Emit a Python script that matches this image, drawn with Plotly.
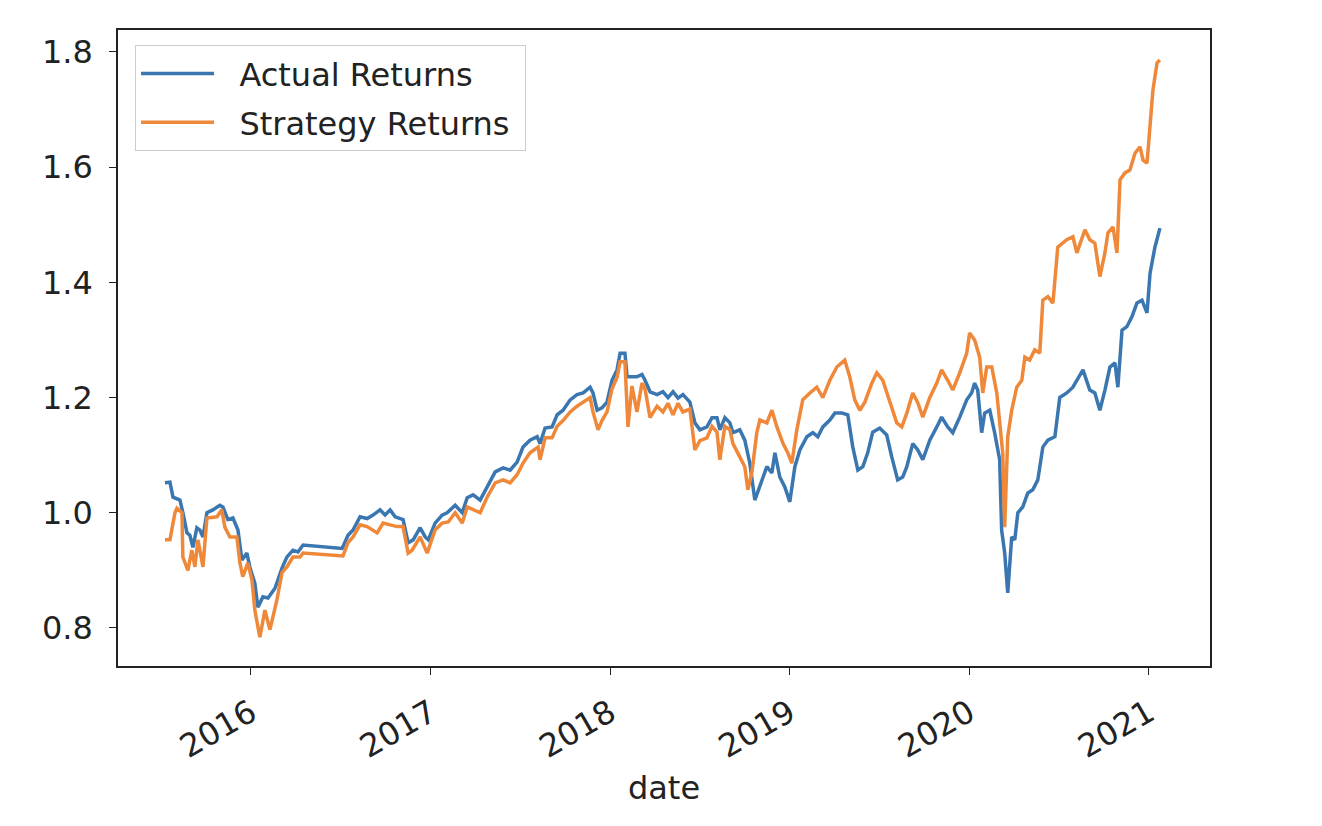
import pandas as pd
import plotly.graph_objects as go

actual_years = [
    2015.521, 2015.549, 2015.566, 2015.605, 2015.621, 2015.644, 2015.660, 2015.677, 2015.699, 2015.716,
    2015.733, 2015.755, 2015.788, 2015.827, 2015.844, 2015.872, 2015.900, 2015.928, 2015.950, 2015.978,
    2015.994, 2016.022, 2016.039, 2016.067, 2016.095, 2016.134, 2016.173, 2016.200, 2016.234, 2016.262,
    2016.290, 2016.507, 2016.540, 2016.568, 2016.607, 2016.646, 2016.679, 2016.718, 2016.746, 2016.774,
    2016.802, 2016.846, 2016.874, 2016.902, 2016.941, 2016.969, 2016.986, 2017.024, 2017.063, 2017.091,
    2017.136, 2017.175, 2017.203, 2017.236, 2017.275, 2017.314, 2017.359, 2017.403, 2017.442, 2017.481,
    2017.514, 2017.553, 2017.593, 2017.609, 2017.637, 2017.676, 2017.704, 2017.737, 2017.777, 2017.815,
    2017.849, 2017.888, 2017.904, 2017.927, 2017.954, 2017.982, 2018.010, 2018.038, 2018.055, 2018.082,
    2018.094, 2018.110, 2018.149, 2018.177, 2018.194, 2018.222, 2018.261, 2018.294, 2018.322, 2018.350,
    2018.378, 2018.405, 2018.444, 2018.472, 2018.500, 2018.539, 2018.567, 2018.595, 2018.611, 2018.639,
    2018.667, 2018.684, 2018.722, 2018.750, 2018.778, 2018.806, 2018.845, 2018.873, 2018.901, 2018.918,
    2018.945, 2018.973, 2019.001, 2019.029, 2019.057, 2019.096, 2019.129, 2019.157, 2019.185, 2019.224,
    2019.252, 2019.291, 2019.324, 2019.352, 2019.380, 2019.408, 2019.435, 2019.463, 2019.502, 2019.541,
    2019.569, 2019.602, 2019.630, 2019.653, 2019.686, 2019.714, 2019.742, 2019.781, 2019.820, 2019.847,
    2019.881, 2019.909, 2019.948, 2019.987, 2020.014, 2020.031, 2020.048, 2020.070, 2020.087, 2020.115,
    2020.142, 2020.170, 2020.181, 2020.198, 2020.215, 2020.237, 2020.254, 2020.271, 2020.298, 2020.326,
    2020.354, 2020.382, 2020.410, 2020.438, 2020.477, 2020.504, 2020.543, 2020.577, 2020.633, 2020.671,
    2020.699, 2020.727, 2020.755, 2020.783, 2020.811, 2020.827, 2020.850, 2020.877, 2020.905, 2020.933,
    2020.961, 2020.989, 2021.006, 2021.033, 2021.061,
]
actual_returns = [
    1.052, 1.053, 1.027, 1.022, 1.000, 0.965, 0.961, 0.940, 0.974, 0.970,
    0.958, 1.000, 1.005, 1.013, 1.010, 0.988, 0.991, 0.970, 0.918, 0.930,
    0.906, 0.878, 0.836, 0.854, 0.852, 0.869, 0.904, 0.923, 0.935, 0.932,
    0.944, 0.938, 0.961, 0.970, 0.993, 0.990, 0.996, 1.005, 0.996, 1.005,
    0.993, 0.988, 0.948, 0.953, 0.974, 0.958, 0.953, 0.982, 0.996, 1.000,
    1.013, 1.000, 1.026, 1.031, 1.022, 1.045, 1.071, 1.078, 1.074, 1.088,
    1.114, 1.126, 1.132, 1.120, 1.147, 1.149, 1.170, 1.178, 1.196, 1.205,
    1.208, 1.218, 1.208, 1.178, 1.182, 1.192, 1.230, 1.248, 1.277, 1.277,
    1.236, 1.236, 1.236, 1.240, 1.230, 1.210, 1.205, 1.210, 1.200, 1.210,
    1.199, 1.205, 1.192, 1.156, 1.144, 1.149, 1.165, 1.165, 1.144, 1.165,
    1.156, 1.139, 1.144, 1.126, 1.086, 1.022, 1.057, 1.080, 1.069, 1.104,
    1.062, 1.045, 1.019, 1.080, 1.109, 1.132, 1.139, 1.132, 1.149, 1.161,
    1.173, 1.173, 1.170, 1.114, 1.074, 1.080, 1.104, 1.140, 1.147, 1.135,
    1.097, 1.057, 1.062, 1.080, 1.120, 1.109, 1.092, 1.126, 1.149, 1.166,
    1.149, 1.139, 1.166, 1.196, 1.208, 1.225, 1.213, 1.139, 1.173, 1.178,
    1.139, 1.092, 0.970, 0.930, 0.861, 0.958, 0.953, 1.000, 1.010, 1.034,
    1.040, 1.057, 1.114, 1.126, 1.132, 1.200, 1.208, 1.218, 1.248, 1.213,
    1.208, 1.178, 1.213, 1.253, 1.260, 1.218, 1.317, 1.323, 1.340, 1.364,
    1.369, 1.347, 1.416, 1.461, 1.494,
]

strategy_years = [
    2015.521, 2015.549, 2015.577, 2015.588, 2015.616, 2015.621, 2015.649, 2015.671, 2015.688, 2015.705,
    2015.733, 2015.755, 2015.811, 2015.838, 2015.855, 2015.883, 2015.922, 2015.939, 2015.955, 2015.983,
    2016.006, 2016.022, 2016.050, 2016.078, 2016.106, 2016.145, 2016.173, 2016.200, 2016.234, 2016.273,
    2016.290, 2016.512, 2016.540, 2016.568, 2016.607, 2016.646, 2016.702, 2016.735, 2016.774, 2016.813,
    2016.846, 2016.874, 2016.896, 2016.941, 2016.980, 2017.024, 2017.063, 2017.097, 2017.136, 2017.175,
    2017.203, 2017.236, 2017.275, 2017.314, 2017.359, 2017.403, 2017.442, 2017.481, 2017.514, 2017.553,
    2017.598, 2017.609, 2017.637, 2017.676, 2017.704, 2017.737, 2017.777, 2017.815, 2017.849, 2017.888,
    2017.904, 2017.932, 2017.954, 2017.982, 2018.010, 2018.038, 2018.055, 2018.082, 2018.099, 2018.121,
    2018.149, 2018.177, 2018.194, 2018.222, 2018.261, 2018.294, 2018.322, 2018.350, 2018.378, 2018.405,
    2018.444, 2018.472, 2018.500, 2018.539, 2018.567, 2018.595, 2018.611, 2018.639, 2018.667, 2018.684,
    2018.722, 2018.750, 2018.767, 2018.789, 2018.817, 2018.834, 2018.873, 2018.901, 2018.929, 2018.962,
    2018.990, 2019.012, 2019.040, 2019.073, 2019.113, 2019.151, 2019.185, 2019.224, 2019.263, 2019.307,
    2019.335, 2019.363, 2019.391, 2019.419, 2019.458, 2019.486, 2019.519, 2019.558, 2019.597, 2019.625,
    2019.653, 2019.686, 2019.714, 2019.742, 2019.781, 2019.820, 2019.847, 2019.881, 2019.909, 2019.948,
    2019.987, 2020.003, 2020.031, 2020.059, 2020.076, 2020.098, 2020.126, 2020.154, 2020.170, 2020.187,
    2020.198, 2020.215, 2020.237, 2020.265, 2020.293, 2020.310, 2020.337, 2020.365, 2020.393, 2020.410,
    2020.438, 2020.466, 2020.493, 2020.543, 2020.577, 2020.599, 2020.644, 2020.671, 2020.699, 2020.727,
    2020.755, 2020.772, 2020.800, 2020.822, 2020.839, 2020.866, 2020.894, 2020.922, 2020.950, 2020.967,
    2020.989, 2021.006, 2021.022, 2021.045, 2021.061,
]
strategy_returns = [
    0.953, 0.953, 1.000, 1.008, 1.000, 0.923, 0.900, 0.935, 0.906, 0.953,
    0.906, 0.991, 0.993, 1.005, 0.975, 0.958, 0.958, 0.913, 0.889, 0.913,
    0.883, 0.831, 0.784, 0.831, 0.797, 0.849, 0.896, 0.906, 0.923, 0.923,
    0.930, 0.925, 0.948, 0.958, 0.979, 0.976, 0.965, 0.982, 0.979, 0.976,
    0.976, 0.930, 0.935, 0.958, 0.930, 0.970, 0.982, 0.984, 1.000, 0.982,
    1.010, 1.005, 1.000, 1.027, 1.052, 1.057, 1.052, 1.066, 1.086, 1.104,
    1.114, 1.092, 1.130, 1.130, 1.150, 1.160, 1.175, 1.185, 1.192, 1.200,
    1.175, 1.144, 1.160, 1.175, 1.215, 1.235, 1.262, 1.262, 1.149, 1.220,
    1.175, 1.225, 1.215, 1.165, 1.185, 1.175, 1.190, 1.170, 1.190, 1.175,
    1.180, 1.109, 1.125, 1.130, 1.150, 1.140, 1.092, 1.150, 1.144, 1.120,
    1.097, 1.080, 1.040, 1.069, 1.139, 1.161, 1.156, 1.178, 1.149, 1.121,
    1.104, 1.086, 1.144, 1.196, 1.208, 1.218, 1.200, 1.230, 1.253, 1.265,
    1.236, 1.196, 1.178, 1.192, 1.225, 1.243, 1.230, 1.191, 1.156, 1.149,
    1.173, 1.208, 1.191, 1.166, 1.200, 1.225, 1.248, 1.230, 1.213, 1.243,
    1.277, 1.312, 1.300, 1.270, 1.208, 1.253, 1.253, 1.208, 1.149, 1.104,
    0.975, 1.132, 1.178, 1.218, 1.230, 1.270, 1.265, 1.283, 1.277, 1.369,
    1.375, 1.364, 1.461, 1.474, 1.479, 1.451, 1.491, 1.474, 1.468, 1.410,
    1.451, 1.486, 1.496, 1.451, 1.578, 1.590, 1.595, 1.624, 1.635, 1.612,
    1.607, 1.682, 1.734, 1.781, 1.786,
]

series_names = ["Actual Returns", "Strategy Returns"]
x_tick_years = [2016, 2017, 2018, 2019, 2020, 2021]
x_tick_labels = ["2016", "2017", "2018", "2019", "2020", "2021"]
y_tick_values = [0.8, 1.0, 1.2, 1.4, 1.6, 1.8]
y_tick_labels = ["0.8", "1.0", "1.2", "1.4", "1.6", "1.8"]


def to_date(y):
    yr = int(y)
    start = pd.Timestamp(year=yr, month=1, day=1)
    end = pd.Timestamp(year=yr + 1, month=1, day=1)
    return start + (end - start) * (y - yr)


actual_dates = [to_date(v) for v in actual_years]
strategy_dates = [to_date(v) for v in strategy_years]

FONT = "DejaVu Sans"
TXT = "#222222"
PAD = "\u00a0\u00a0"
fig = go.Figure()
fig.add_trace(go.Scatter(x=actual_dates, y=actual_returns, mode="lines",
                         name=PAD + series_names[0] + "\u00a0", legendgroup="a",
                         line=dict(color="#3a76b0", width=3.5)))
fig.add_trace(go.Scatter(x=strategy_dates, y=strategy_returns, mode="lines",
                         name=PAD + series_names[1] + "\u00a0", legendgroup="b",
                         line=dict(color="#f0883a", width=3.5)))

fig.update_layout(
    width=1314, height=818,
    margin=dict(l=110, r=112, t=22, b=160),
    paper_bgcolor="white", plot_bgcolor="white",
    font=dict(family=FONT, size=32, color=TXT),
    showlegend=True,
    legend=dict(x=0.0156, y=0.976, xanchor="left", yanchor="top",
                bgcolor="rgba(255,255,255,0.8)", bordercolor="#cccccc", borderwidth=1,
                font=dict(family=FONT, size=32, color=TXT),
                itemwidth=73, tracegroupgap=4),
)
fig.update_xaxes(
    type="date",
    range=[to_date(2015.2595), to_date(2021.340)],
    tickvals=[to_date(v) for v in x_tick_years], ticktext=x_tick_labels,
    tickangle=-30, ticks="outside", ticklen=7, tickwidth=1.2, tickcolor=TXT,
    ticklabelstandoff=7,
    showline=True, linecolor=TXT, linewidth=1.5, mirror=True,
    showgrid=False, zeroline=False,
    title=dict(text="date", standoff=12, font=dict(family=FONT, size=32, color=TXT)),
)
fig.update_yaxes(
    range=[0.734, 1.838],
    tickvals=y_tick_values, ticktext=y_tick_labels,
    ticks="outside", ticklen=7, tickwidth=1.2, tickcolor=TXT,
    ticklabelstandoff=10,
    showline=True, linecolor=TXT, linewidth=1.5, mirror=True,
    showgrid=False, zeroline=False,
)

fig.write_html("out.html")
